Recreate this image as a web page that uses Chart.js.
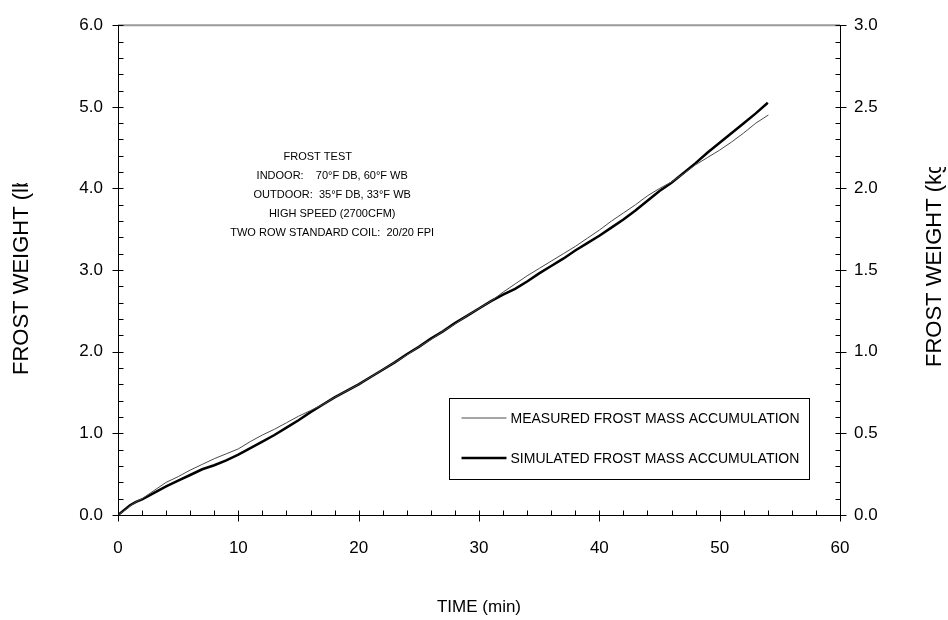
<!DOCTYPE html>
<html>
<head>
<meta charset="utf-8">
<script src="https://cdn.jsdelivr.net/npm/chart.js@4.4.1/dist/chart.umd.min.js"></script>
<style>
  html, body { margin: 0; padding: 0; background: #fff; }
  #wrap { width: 948px; height: 620px; }
</style>
</head>
<body>
<div id="wrap"><canvas id="c" width="948" height="620"></canvas></div>
<script>
// Measured frost mass (lb) against elapsed time (min)
const timeMeasured = [0, 0.5, 1, 1.5, 2, 3, 4, 5, 6, 7, 8, 9, 10, 11, 12, 13, 14, 15, 16, 17, 18, 19, 20,
  21, 22, 23, 24, 25, 26, 27, 28, 29, 30, 31, 32, 33, 34, 35, 36, 37, 38, 39, 40, 41, 42, 43, 44, 45,
  46, 47, 48, 49, 50, 51, 52, 53, 54.05];
const frostMeasured = [0, 0.05, 0.11, 0.16, 0.20, 0.30, 0.40, 0.47, 0.55, 0.62, 0.69, 0.75, 0.81, 0.90, 0.98,
  1.05, 1.13, 1.21, 1.28, 1.35, 1.44, 1.52, 1.60, 1.69, 1.78, 1.87, 1.96, 2.06, 2.15, 2.25, 2.34, 2.44,
  2.53, 2.62, 2.73, 2.83, 2.93, 3.02, 3.11, 3.20, 3.29, 3.39, 3.49, 3.60, 3.70, 3.80, 3.91, 4.00, 4.08,
  4.18, 4.29, 4.38, 4.47, 4.57, 4.68, 4.80, 4.90];

// Simulated frost mass (lb) against elapsed time (min)
const timeSimulated = [0, 0.5, 1, 1.5, 2, 3, 4, 5, 6, 7, 8, 9, 10, 11, 12, 13, 14, 15, 16, 17, 18, 19, 20,
  21, 22, 23, 24, 25, 26, 27, 28, 29, 30, 31, 32, 33, 34, 35, 36, 37, 38, 39, 40, 41, 42, 43, 44, 45,
  46, 47, 48, 49, 50, 51, 52, 53, 54];
const frostSimulated = [0, 0.06, 0.12, 0.16, 0.19, 0.27, 0.35, 0.42, 0.49, 0.56, 0.61, 0.67, 0.74, 0.82, 0.90,
  0.98, 1.07, 1.16, 1.26, 1.35, 1.44, 1.52, 1.60, 1.69, 1.78, 1.87, 1.97, 2.06, 2.16, 2.25, 2.35, 2.44,
  2.53, 2.62, 2.70, 2.77, 2.86, 2.96, 3.05, 3.14, 3.24, 3.33, 3.42, 3.52, 3.62, 3.73, 3.85, 3.97, 4.07,
  4.19, 4.31, 4.44, 4.56, 4.68, 4.80, 4.92, 5.05];

// Tick labels
const timeTicks = [0, 10, 20, 30, 40, 50, 60];
const lbTicks = [0, 1, 2, 3, 4, 5, 6];
const kgTicks = [0, 0.5, 1, 1.5, 2, 2.5, 3];

const seriesNames = ['MEASURED FROST MASS ACCUMULATION', 'SIMULATED FROST MASS ACCUMULATION'];
const testTitle = 'FROST TEST';
const testConditions = [
  'INDOOR:    70°F DB, 60°F WB',
  'OUTDOOR:  35°F DB, 33°F WB',
  'HIGH SPEED (2700CFM)',
  'TWO ROW STANDARD COIL:  20/20 FPI'
];

const FONT = '"Liberation Sans", Arial, sans-serif';
const tickFont = { family: FONT, size: 17 };

const toPoints = (xs, ys) => xs.map((t, i) => ({ x: t, y: ys[i] }));

// draws a rotated axis title whose far end runs past the clip line
function clippedTitle(ctx, text, x, yStart, clipTop, w, h) {
  ctx.save();
  ctx.beginPath();
  ctx.rect(0, clipTop, w, h - clipTop);
  ctx.clip();
  ctx.translate(x, yStart);
  ctx.rotate(-Math.PI / 2);
  ctx.fillText(text, 0, 0);
  ctx.restore();
}

// Axis lines, inward minor ticks, crossing major ticks, titles, notes and legend box
const framePlugin = {
  id: 'frame',
  afterDraw(chart) {
    const { ctx, chartArea: a, scales: { x, y, y2 } } = chart;
    ctx.save();

    // top edge
    ctx.strokeStyle = '#9a9a9a';
    ctx.lineWidth = 2;
    ctx.beginPath();
    ctx.moveTo(a.left, a.top);
    ctx.lineTo(a.right, a.top);
    ctx.stroke();

    ctx.strokeStyle = '#000';
    ctx.lineWidth = 1;
    const L = Math.round(a.left) + 0.5;
    const R = Math.round(a.right) + 0.5;
    const B = Math.round(a.bottom) + 0.5;
    ctx.beginPath();
    ctx.moveTo(L, a.top); ctx.lineTo(L, B);
    ctx.moveTo(R, a.top); ctx.lineTo(R, B);
    ctx.moveTo(L, B); ctx.lineTo(R, B);

    // time axis: minor every 2 min, major every 10
    for (let t = 0; t <= 60; t += 2) {
      const px = Math.round(x.getPixelForValue(t)) + 0.5;
      const major = t % 10 === 0;
      ctx.moveTo(px, B - 5);
      ctx.lineTo(px, major ? B + 6 : B);
    }
    // lb axis: minor every 0.2
    for (let k = 0; k <= 30; k++) {
      const py = Math.round(y.getPixelForValue(k * 0.2)) + 0.5;
      const major = k % 5 === 0;
      ctx.moveTo(major ? L - 6 : L, py);
      ctx.lineTo(L + 5, py);
    }
    // kg axis: minor every 0.1
    for (let k = 0; k <= 30; k++) {
      const py = Math.round(y2.getPixelForValue(k * 0.1)) + 0.5;
      const major = k % 5 === 0;
      ctx.moveTo(R - 5, py);
      ctx.lineTo(major ? R + 6 : R, py);
    }
    ctx.stroke();

    // axis titles
    ctx.fillStyle = '#000';
    ctx.font = '17px ' + FONT;
    ctx.textAlign = 'center';
    ctx.textBaseline = 'middle';
    ctx.fillText('TIME (min)', (a.left + a.right) / 2, 607);

    ctx.font = '22px ' + FONT;
    ctx.textAlign = 'left';
    clippedTitle(ctx, 'FROST WEIGHT (lb)', 22, 375, 183, chart.width, chart.height);
    clippedTitle(ctx, 'FROST WEIGHT (kg)', 935, 367, 167, chart.width, chart.height);

    // test conditions block
    ctx.font = '11px ' + FONT;
    ctx.textAlign = 'center';
    ctx.fillText(testTitle, x.getPixelForValue(16.6), 157);
    const cx = x.getPixelForValue(17.8);
    testConditions.forEach((s, i) => ctx.fillText(s, cx, 176 + i * 19));

    // legend
    const bx = Math.round(x.getPixelForValue(27.5)) + 0.5;
    const bw = 360;
    const by = 398.5;
    const bh = 81;
    ctx.strokeStyle = '#000';
    ctx.lineWidth = 1;
    ctx.strokeRect(bx, by, bw, bh);
    ctx.font = '14px ' + FONT;
    ctx.textAlign = 'left';
    chart.data.datasets.forEach((ds, i) => {
      const ly = by + 19.5 + i * 40;
      ctx.strokeStyle = ds.borderColor;
      ctx.lineWidth = ds.borderWidth;
      ctx.beginPath();
      ctx.moveTo(bx + 12, ly);
      ctx.lineTo(bx + 57, ly);
      ctx.stroke();
      ctx.fillText(ds.label, bx + 61, ly + 1);
    });

    ctx.restore();
  }
};

new Chart(document.getElementById('c'), {
  type: 'line',
  data: {
    datasets: [
      {
        label: seriesNames[0],
        data: toPoints(timeMeasured, frostMeasured),
        borderColor: '#4a4a4a',
        borderWidth: 1,
        pointRadius: 0,
        yAxisID: 'y'
      },
      {
        label: seriesNames[1],
        data: toPoints(timeSimulated, frostSimulated),
        borderColor: '#000',
        borderWidth: 2.5,
        pointRadius: 0,
        yAxisID: 'y'
      }
    ]
  },
  options: {
    responsive: false,
    animation: false,
    devicePixelRatio: 1,
    layout: { padding: { top: 23, left: 0, right: 0, bottom: 0 } },
    plugins: { legend: { display: false }, tooltip: { enabled: false } },
    elements: { line: { tension: 0 } },
    scales: {
      x: {
        type: 'linear', min: 0, max: 60,
        afterBuildTicks: s => { s.ticks = timeTicks.map(v => ({ value: v })); },
        afterFit: s => { s.height = 105; },
        grid: { display: false, drawTicks: false },
        border: { display: false },
        ticks: { font: tickFont, color: '#000', padding: 23, maxRotation: 0 }
      },
      y: {
        type: 'linear', position: 'left', min: 0, max: 6,
        afterBuildTicks: s => { s.ticks = lbTicks.map(v => ({ value: v })); },
        afterFit: s => { s.width = 118; },
        grid: { display: false, drawTicks: false },
        border: { display: false },
        ticks: { font: tickFont, color: '#000', padding: 15, callback: v => v.toFixed(1) }
      },
      y2: {
        type: 'linear', position: 'right', min: 0, max: 3,
        afterBuildTicks: s => { s.ticks = kgTicks.map(v => ({ value: v })); },
        afterFit: s => { s.width = 108; },
        grid: { display: false, drawTicks: false },
        border: { display: false },
        ticks: { font: tickFont, color: '#000', padding: 14, callback: v => v.toFixed(1) }
      }
    }
  },
  plugins: [framePlugin]
});
</script>
</body>
</html>
